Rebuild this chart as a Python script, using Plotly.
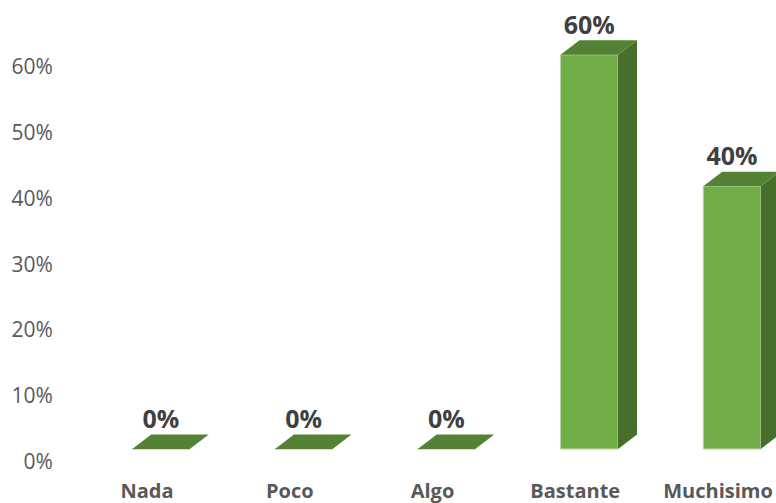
import plotly.graph_objects as go

categories = ["Nada", "Poco", "Algo", "Bastante", "Muchisimo"]
values = [0, 0, 0, 60, 40]
y_ticks = [0, 10, 20, 30, 40, 50, 60]

FRONT = "#70AD47"
TOP = "#548235"
SIDE = "#486E2C"
EDGE = "#BBD7A6"
TICK = "#595959"
LABEL = "#404040"
FONT = "Open Sans"

W, H = 776, 503
ML, MB = 60, 38
ZERO_PX = 460
X0_PX, STEP_PX = 161.0, 142.75
Y_UNIT_PX = 6.57
BAR_W = 0.403
DEPTH_X = 19 / STEP_PX
DEPTH_Y = 14.5 / Y_UNIT_PX
FLOOR = 11 / Y_UNIT_PX
LABEL_SHIFT = -14 / STEP_PX
TICK_SHIFT = -1.3 / Y_UNIT_PX

idx = list(range(len(categories)))
tops = [v + FLOOR for v in values]


def polys(make):
    xs, ys = [], []
    for i, t in zip(idx, tops):
        px, py = make(i, t)
        xs += px + [None]
        ys += py + [None]
    return xs, ys


def top_face(i, t):
    l, r = i - BAR_W / 2, i + BAR_W / 2
    return [l, r, r + DEPTH_X, l + DEPTH_X, l], [t, t, t + DEPTH_Y, t + DEPTH_Y, t]


def side_face(i, t):
    r = i + BAR_W / 2
    return [r, r + DEPTH_X, r + DEPTH_X, r, r], [FLOOR, FLOOR + DEPTH_Y, t + DEPTH_Y, t, FLOOR]


fig = go.Figure()
sx, sy = polys(side_face)
fig.add_trace(go.Scatter(x=sx, y=sy, mode="lines", fill="toself", fillcolor=SIDE,
                         line=dict(width=0), hoverinfo="skip", showlegend=False))
tx, ty = polys(top_face)
fig.add_trace(go.Scatter(x=tx, y=ty, mode="lines", fill="toself", fillcolor=TOP,
                         line=dict(width=0), hoverinfo="skip", showlegend=False))
fig.add_trace(go.Bar(x=idx, y=values, base=FLOOR, width=BAR_W,
                     marker=dict(color=FRONT, line=dict(color=EDGE, width=1)),
                     showlegend=False))
fig.add_trace(go.Scatter(x=idx, y=[t + DEPTH_Y for t in tops], mode="text",
                         text=[f"{v}%" for v in values], textposition="top center",
                         textfont=dict(family=FONT, size=25, color=LABEL, weight="bold"),
                         hoverinfo="skip", showlegend=False, cliponaxis=False))

fig.update_layout(
    width=W, height=H, autosize=False,
    margin=dict(l=ML, r=0, t=0, b=MB, pad=0),
    paper_bgcolor="white", plot_bgcolor="white",
    xaxis=dict(
        range=[(ML - X0_PX) / STEP_PX, (W - X0_PX) / STEP_PX],
        tickmode="array",
        tickvals=[i + LABEL_SHIFT for i in idx],
        ticktext=categories,
        tickfont=dict(family=FONT, size=20, color=TICK, weight="bold"),
        ticks="outside", ticklen=8, tickcolor="rgba(0,0,0,0)",
        showgrid=False, zeroline=False, showline=False, automargin=False,
    ),
    yaxis=dict(
        range=[(ZERO_PX - (H - MB)) / Y_UNIT_PX, ZERO_PX / Y_UNIT_PX],
        tickmode="array",
        tickvals=[v + TICK_SHIFT for v in y_ticks],
        ticktext=[f"{v}%" for v in y_ticks],
        tickfont=dict(family=FONT, size=21, color=TICK),
        ticks="outside", ticklen=2, tickcolor="rgba(0,0,0,0)",
        showgrid=False, zeroline=False, showline=False, automargin=False,
    ),
)
fig.write_html(
    "out.html",
    config={"displayModeBar": False},
    post_script="document.body.style.margin='0';document.documentElement.style.overflow='hidden';",
)
